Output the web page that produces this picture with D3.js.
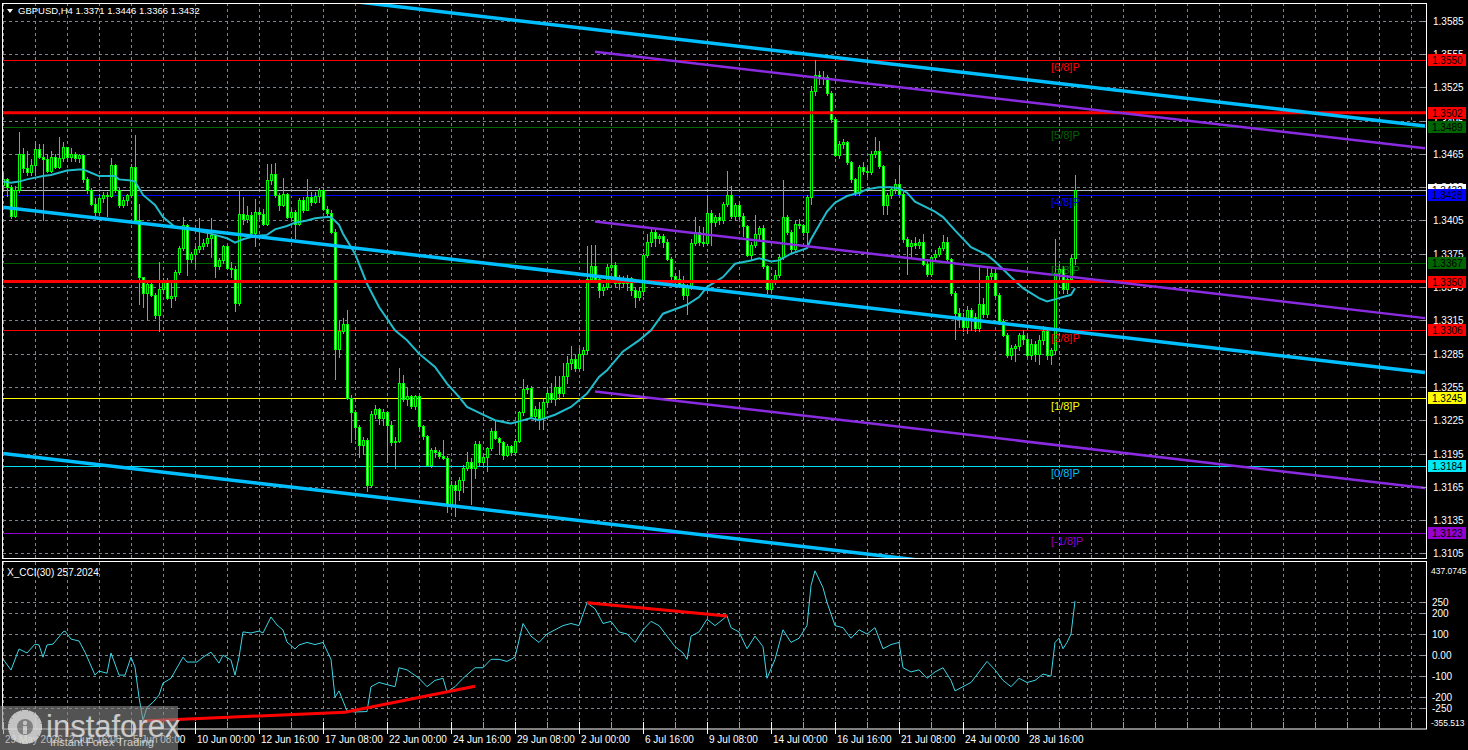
<!DOCTYPE html>
<html><head><meta charset="utf-8">
<script src="https://cdn.jsdelivr.net/npm/d3@7/dist/d3.min.js"></script>
<style>html,body{margin:0;padding:0;background:#000;overflow:hidden}svg{display:block}</style>
</head><body>
<svg id="c" width="1468" height="750"></svg>
<script>
// ---------- DATA ----------
const header = "GBPUSD,H4  1.3371 1.3446 1.3366 1.3432";
const cciTitle = "X_CCI(30) 257.2024";
const opens = [
1.3437,1.3442,1.3435,1.3409,1.3432,1.3465,1.3452,1.3449,1.3455,1.3469,
1.3462,1.3460,1.3450,1.3462,1.3453,1.3461,1.3471,1.3462,1.3465,1.3461,
1.3464,1.3442,1.3432,1.3420,1.3413,1.3425,1.3428,1.3427,1.3455,1.3432,
1.3419,1.3423,1.3428,1.3453,1.3405,1.3354,1.3340,1.3348,1.3338,1.3320,
1.3343,1.3351,1.3335,1.3337,1.3359,1.3380,1.3401,1.3370,1.3375,1.3379,
1.3382,1.3385,1.3389,1.3392,1.3364,1.3369,1.3382,1.3362,1.3361,1.3331,
1.3411,1.3406,1.3410,1.3394,1.3413,1.3411,1.3402,1.3441,1.3447,1.3428,
1.3419,1.3429,1.3408,1.3413,1.3402,1.3423,1.3414,1.3426,1.3422,1.3427,
1.3432,1.3415,1.3412,1.3395,1.3289,1.3305,1.3312,1.3245,1.3232,1.3219,
1.3203,1.3207,1.3167,1.3231,1.3235,1.3227,1.3232,1.3221,1.3205,1.3206,
1.3259,1.3244,1.3247,1.3238,1.3247,1.3220,1.3211,1.3185,1.3198,1.3196,
1.3193,1.3191,1.3150,1.3167,1.3162,1.3171,1.3182,1.3187,1.3182,1.3204,
1.3187,1.3192,1.3200,1.3215,1.3209,1.3205,1.3194,1.3202,1.3196,1.3206,
1.3232,1.3253,1.3254,1.3229,1.3235,1.3227,1.3241,1.3250,1.3244,1.3255,
1.3250,1.3265,1.3277,1.3280,1.3272,1.3285,1.3288,1.3352,1.3364,1.3352,
1.3342,1.3345,1.3363,1.3365,1.3349,1.3352,1.3349,1.3353,1.3342,1.3336,
1.3341,1.3374,1.3386,1.3395,1.3389,1.3391,1.3386,1.3370,1.3355,1.3352,
1.3348,1.3338,1.3346,1.3385,1.3395,1.3386,1.3385,1.3412,1.3404,1.3408,
1.3405,1.3420,1.3428,1.3409,1.3419,1.3409,1.3400,1.3374,1.3383,1.3393,
1.3398,1.3364,1.3343,1.3350,1.3356,1.3372,1.3408,1.3395,1.3379,1.3402,
1.3401,1.3395,1.3426,1.3522,1.3536,1.3533,1.3534,1.3520,1.3496,1.3464,
1.3474,1.3476,1.3458,1.3442,1.3430,1.3453,1.3450,1.3449,1.3465,1.3468,
1.3454,1.3419,1.3428,1.3433,1.3438,1.3429,1.3388,1.3382,1.3385,1.3383,
1.3386,1.3366,1.3357,1.3372,1.3375,1.3380,1.3386,1.3370,1.3340,1.3322,
1.3317,1.3309,1.3324,1.3318,1.3308,1.3330,1.3321,1.3355,1.3358,1.3338,
1.3314,1.3302,1.3284,1.3290,1.3292,1.3302,1.3298,1.3284,1.3294,1.3285,
1.3297,1.3305,1.3284,1.3288,1.3358,1.3361,1.3343,1.3352,1.3371];
const highs = [
1.3448,1.3443,1.3437,1.3436,1.3485,1.3470,1.3468,1.3460,1.3476,1.3474,
1.3474,1.3465,1.3468,1.3465,1.3480,1.3476,1.3471,1.3470,1.3467,1.3465,
1.3465,1.3444,1.3434,1.3425,1.3429,1.3431,1.3431,1.3461,1.3456,1.3434,
1.3426,1.3429,1.3456,1.3482,1.3420,1.3354,1.3350,1.3350,1.3340,1.3368,
1.3353,1.3353,1.3350,1.3360,1.3382,1.3408,1.3402,1.3377,1.3382,1.3407,
1.3388,1.3394,1.3407,1.3393,1.3371,1.3383,1.3383,1.3368,1.3364,1.3432,
1.3426,1.3418,1.3413,1.3424,1.3416,1.3415,1.3456,1.3456,1.3457,1.3430,
1.3443,1.3430,1.3415,1.3414,1.3425,1.3426,1.3442,1.3431,1.3431,1.3434,
1.3434,1.3418,1.3414,1.3397,1.3315,1.3317,1.3324,1.3248,1.3234,1.3221,
1.3210,1.3209,1.3233,1.3239,1.3236,1.3235,1.3233,1.3224,1.3210,1.3272,
1.3266,1.3254,1.3248,1.3248,1.3248,1.3221,1.3212,1.3200,1.3201,1.3198,
1.3207,1.3193,1.3170,1.3170,1.3174,1.3185,1.3196,1.3191,1.3206,1.3206,
1.3194,1.3201,1.3218,1.3225,1.3210,1.3206,1.3204,1.3203,1.3208,1.3233,
1.3262,1.3257,1.3256,1.3238,1.3241,1.3244,1.3255,1.3259,1.3265,1.3265,
1.3277,1.3283,1.3292,1.3284,1.3290,1.3291,1.3382,1.3383,1.3383,1.3353,
1.3348,1.3366,1.3380,1.3368,1.3356,1.3355,1.3356,1.3354,1.3344,1.3345,
1.3376,1.3393,1.3397,1.3398,1.3393,1.3393,1.3388,1.3372,1.3358,1.3360,
1.3355,1.3348,1.3388,1.3408,1.3400,1.3399,1.3428,1.3414,1.3410,1.3412,
1.3422,1.3450,1.3436,1.3421,1.3422,1.3412,1.3401,1.3386,1.3410,1.3400,
1.3401,1.3365,1.3352,1.3360,1.3375,1.3441,1.3410,1.3396,1.3405,1.3406,
1.3402,1.3428,1.3526,1.3550,1.3540,1.3540,1.3536,1.3522,1.3498,1.3477,
1.3478,1.3477,1.3459,1.3443,1.3455,1.3458,1.3453,1.3468,1.3480,1.3477,
1.3455,1.3430,1.3435,1.3442,1.3455,1.3431,1.3390,1.3387,1.3390,1.3388,
1.3393,1.3370,1.3374,1.3378,1.3382,1.3392,1.3390,1.3371,1.3341,1.3326,
1.3322,1.3328,1.3326,1.3322,1.3364,1.3335,1.3362,1.3362,1.3362,1.3340,
1.3316,1.3304,1.3293,1.3294,1.3304,1.3306,1.3303,1.3298,1.3296,1.3302,
1.3310,1.3307,1.3290,1.3388,1.3366,1.3364,1.3356,1.3374,1.3446];
const lows = [
1.3434,1.3427,1.3407,1.3408,1.3431,1.3449,1.3446,1.3446,1.3446,1.3461,
1.3405,1.3449,1.3449,1.3452,1.3452,1.3459,1.3459,1.3459,1.3459,1.3458,
1.3440,1.3430,1.3419,1.3410,1.3412,1.3422,1.3409,1.3426,1.3431,1.3417,
1.3417,1.3419,1.3426,1.3404,1.3330,1.3327,1.3315,1.3337,1.3317,1.3305,
1.3340,1.3334,1.3327,1.3333,1.3357,1.3378,1.3356,1.3368,1.3364,1.3377,
1.3379,1.3382,1.3372,1.3354,1.3361,1.3367,1.3361,1.3354,1.3323,1.3329,
1.3402,1.3404,1.3391,1.3382,1.3407,1.3401,1.3401,1.3438,1.3426,1.3414,
1.3418,1.3407,1.3407,1.3389,1.3401,1.3413,1.3414,1.3419,1.3421,1.3422,
1.3414,1.3410,1.3394,1.3262,1.3282,1.3304,1.3244,1.3205,1.3208,1.3192,
1.3195,1.3161,1.3165,1.3227,1.3222,1.3221,1.3187,1.3203,1.3182,1.3205,
1.3242,1.3239,1.3236,1.3235,1.3218,1.3208,1.3184,1.3183,1.3192,1.3191,
1.3190,1.3142,1.3147,1.3139,1.3153,1.3160,1.3180,1.3150,1.3173,1.3185,
1.3185,1.3179,1.3198,1.3208,1.3195,1.3190,1.3193,1.3194,1.3194,1.3205,
1.3230,1.3250,1.3227,1.3224,1.3217,1.3217,1.3238,1.3241,1.3239,1.3244,
1.3247,1.3259,1.3271,1.3269,1.3270,1.3270,1.3286,1.3350,1.3351,1.3336,
1.3338,1.3343,1.3360,1.3346,1.3343,1.3346,1.3342,1.3338,1.3327,1.3333,
1.3338,1.3372,1.3382,1.3382,1.3385,1.3381,1.3369,1.3352,1.3348,1.3345,
1.3334,1.3321,1.3343,1.3383,1.3383,1.3382,1.3383,1.3383,1.3400,1.3402,
1.3403,1.3418,1.3407,1.3405,1.3406,1.3391,1.3373,1.3370,1.3381,1.3388,
1.3362,1.3340,1.3341,1.3348,1.3354,1.3370,1.3393,1.3375,1.3378,1.3398,
1.3392,1.3384,1.3420,1.3518,1.3528,1.3528,1.3518,1.3494,1.3463,1.3461,
1.3470,1.3456,1.3440,1.3428,1.3428,1.3447,1.3445,1.3447,1.3462,1.3452,
1.3411,1.3411,1.3425,1.3430,1.3428,1.3386,1.3357,1.3372,1.3380,1.3380,
1.3365,1.3355,1.3355,1.3370,1.3373,1.3378,1.3368,1.3338,1.3298,1.3309,
1.3305,1.3304,1.3306,1.3305,1.3305,1.3318,1.3318,1.3350,1.3336,1.3312,
1.3301,1.3282,1.3280,1.3278,1.3288,1.3294,1.3282,1.3280,1.3278,1.3276,
1.3294,1.3280,1.3276,1.3285,1.3352,1.3340,1.3340,1.3350,1.3366];
const closes = [
1.3442,1.3435,1.3409,1.3432,1.3465,1.3452,1.3449,1.3455,1.3469,1.3462,
1.3460,1.3450,1.3462,1.3453,1.3461,1.3471,1.3462,1.3465,1.3461,1.3464,
1.3442,1.3432,1.3420,1.3413,1.3425,1.3428,1.3427,1.3455,1.3432,1.3419,
1.3423,1.3428,1.3453,1.3405,1.3354,1.3340,1.3348,1.3338,1.3320,1.3343,
1.3351,1.3335,1.3337,1.3359,1.3380,1.3401,1.3370,1.3375,1.3379,1.3382,
1.3385,1.3389,1.3392,1.3364,1.3369,1.3382,1.3362,1.3361,1.3331,1.3411,
1.3406,1.3410,1.3394,1.3413,1.3411,1.3402,1.3441,1.3447,1.3428,1.3419,
1.3429,1.3408,1.3413,1.3402,1.3423,1.3414,1.3426,1.3422,1.3427,1.3432,
1.3415,1.3412,1.3395,1.3289,1.3305,1.3312,1.3245,1.3232,1.3219,1.3203,
1.3207,1.3167,1.3231,1.3235,1.3227,1.3232,1.3221,1.3205,1.3206,1.3259,
1.3244,1.3247,1.3238,1.3247,1.3220,1.3211,1.3185,1.3198,1.3196,1.3193,
1.3191,1.3150,1.3167,1.3162,1.3171,1.3182,1.3187,1.3182,1.3204,1.3187,
1.3192,1.3200,1.3215,1.3209,1.3205,1.3194,1.3202,1.3196,1.3206,1.3232,
1.3253,1.3254,1.3229,1.3235,1.3227,1.3241,1.3250,1.3244,1.3255,1.3250,
1.3265,1.3277,1.3280,1.3272,1.3285,1.3288,1.3352,1.3364,1.3352,1.3342,
1.3345,1.3363,1.3365,1.3349,1.3352,1.3349,1.3353,1.3342,1.3336,1.3341,
1.3374,1.3386,1.3395,1.3389,1.3391,1.3386,1.3370,1.3355,1.3352,1.3348,
1.3338,1.3346,1.3385,1.3395,1.3386,1.3385,1.3412,1.3404,1.3408,1.3405,
1.3420,1.3428,1.3409,1.3419,1.3409,1.3400,1.3374,1.3383,1.3393,1.3398,
1.3364,1.3343,1.3350,1.3356,1.3372,1.3408,1.3395,1.3379,1.3402,1.3401,
1.3395,1.3426,1.3522,1.3536,1.3533,1.3534,1.3520,1.3496,1.3464,1.3474,
1.3476,1.3458,1.3442,1.3430,1.3453,1.3450,1.3449,1.3465,1.3468,1.3454,
1.3419,1.3428,1.3433,1.3438,1.3429,1.3388,1.3382,1.3385,1.3383,1.3386,
1.3366,1.3357,1.3372,1.3375,1.3380,1.3386,1.3370,1.3340,1.3322,1.3317,
1.3309,1.3324,1.3318,1.3308,1.3330,1.3321,1.3355,1.3358,1.3338,1.3314,
1.3302,1.3284,1.3290,1.3292,1.3302,1.3298,1.3284,1.3294,1.3285,1.3297,
1.3305,1.3284,1.3288,1.3358,1.3361,1.3343,1.3352,1.3371,1.3432];

// moving average read at sample bars
const maIdx = [0,2,4,6,10,12,14,16,19,20,22,24,28,29,32,33,35,38,40,43,46,48,51,53,56,58,60,63,66,68,71,73,76,78,81,82,84,85,88,91,94,98,101,104,108,111,114,116,120,123,127,129,132,134,138,142,146,149,151,155,159,162,165,168,171,174,176,180,183,187,189,192,194,197,201,202,206,208,211,214,216,219,222,224,226,228,233,235,238,242,246,248,252,255,259,261,264,267,268];
const maVal = [1.3440,1.3439,1.3440,1.3442,1.3445,1.3446,1.3448,1.3450,1.3451,1.3451,1.3448,1.3445,1.3445,1.3442,1.3441,1.3440,1.3428,1.3419,1.3408,1.3399,1.3398,1.3396,1.3394,1.3392,1.3389,1.3385,1.3388,1.3391,1.3392,1.3397,1.3400,1.3403,1.3405,1.3407,1.3408,1.3408,1.3401,1.3393,1.3375,1.3348,1.3327,1.3306,1.3297,1.3285,1.3273,1.3258,1.3246,1.3237,1.3230,1.3225,1.3222,1.3224,1.3227,1.3225,1.3230,1.3237,1.3249,1.3264,1.3270,1.3287,1.3297,1.3306,1.3321,1.3325,1.3329,1.3336,1.3345,1.3354,1.3366,1.3369,1.3371,1.3368,1.3369,1.3375,1.3380,1.3388,1.3413,1.3421,1.3427,1.3430,1.3433,1.3435,1.3435,1.3434,1.3430,1.3422,1.3413,1.3408,1.3396,1.3381,1.3374,1.3368,1.3354,1.3344,1.3335,1.3332,1.3335,1.3338,1.3344];

// CCI(30) read at sample bars
const cciIdx = [0,2,4,6,8,9,10,11,12.5,15,15.5,17,19,20.5,23,24,26,27,29,30.5,32,33,34,35,36,37.5,39,40,42,45,46,48.5,50,52,54,55,57,58,59,60,62,64,65,67,68.5,70,71,73,74,76,78,80,82,83,84,86,88,91,92,94,96,98,99,101,104,106,108,110,111,113,115,118,120,122,124,126,128,130,132,134,136,138,140,142,144,146,148,150,152,154,156,158,160,162,164,166,168,170,171,172,174,176,178,180,181,182,184,186,188,190,191,193,195,197,199,201,202,203,205,206,208,210,212,214,216,218,220,222,224,225,227,229,231,233,235,237,238,240,242,244,246,248,250,252,254,256,258,260,262,263,264,265,266,267,268];
const cciVal = [-19,-71,29,10,52,48,-10,48,52,110,114,76,67,14,-95,-76,-86,10,-95,-95,-10,-57,-200,-310,-248,-224,-190,-133,-110,-10,-33,-33,-10,14,-38,0,-24,-95,-10,110,105,114,105,181,143,119,62,29,48,60,50,60,-20,-200,-170,-265,-270,-268,-150,-130,-140,-150,-60,-70,-110,-150,-120,-110,-175,-150,-110,-60,-60,-20,-20,-30,-10,150,90,60,100,120,140,150,140,248,220,150,160,110,100,60,120,160,140,90,40,10,-20,90,110,170,140,170,186,130,110,30,90,40,-110,-20,120,60,80,140,330,400,320,250,140,130,80,120,100,130,30,50,60,-60,-80,-70,-110,-80,-60,-120,-170,-150,-130,-80,-30,-70,-120,-150,-110,-130,-120,-90,-100,60,80,30,60,100,257];

const priceRange = [1.3100, 1.3600];
const priceTicks = [1.3105,1.3135,1.3165,1.3195,1.3225,1.3255,1.3285,1.3315,1.3345,1.3375,1.3405,1.3435,1.3465,1.3495,1.3525,1.3555,1.3585];
const cciRange = [-355.513, 437.0745];
const cciLevels = [250,200,100,0,-100,-200,-250];
const cciLevelLabels = ["250","200","100","0.00","-100","-200","-250"];
const cciExtremeLabels = ["437.0745","-355.513"];

const timeLabelIdx = [0,16,32,48,64,80,96,112,128,144,160,176,192,208,224,240,256];
const timeLabels = ["29 May 2026","2 Jun 16:00","5 Jun 08:00","10 Jun 00:00","12 Jun 16:00","17 Jun 08:00","22 Jun 00:00","24 Jun 16:00","29 Jun 08:00","2 Jul 00:00","6 Jul 16:00","9 Jul 08:00","14 Jul 00:00","16 Jul 16:00","21 Jul 08:00","24 Jul 00:00","28 Jul 16:00"];

const murrayNames = ["[-1/8]P","[0/8]P","[1/8]P","[2/8]P","[3/8]P","[4/8]P","[5/8]P","[6/8]P"];
const murrayValues = [1.3123,1.3184,1.3245,1.3306,1.3367,1.3428,1.3489,1.3550];
const srLevels = [1.3502, 1.3350];
const lastPrice = 1.3432;

// trend channels: [startBar, startPrice, endBar, endPrice]
const blueChannel = [[0,1.3639,355.5,1.3490],[0,1.3417,355.5,1.3268],[0,1.3195,355.5,1.3046]];
const purpleChannel = [[148,1.3557,355.5,1.3470],[148,1.3404,355.5,1.3317],[148,1.3251,355.5,1.3164]];
// CCI divergence lines: [startBar, startCCI, endBar, endCCI]
const cciTrend = [[35,-313,85.5,-271],[85.5,-271,118,-148],[146,248,181,186]];

// ---------- STYLE ----------
const murrayLineColors = ["#9400d3","#00e0f0","#ffff00","#ff0000","#006400","#0000ff","#006400","#ff0000"];
const murrayTextColors = ["#9400d3","#00bfff","#ffff00","#ff0000","#008000","#0000ff","#006400","#ff0000"];
const FONT = "'Liberation Sans', Arial, sans-serif";
const GRID = "#7a8591";

// ---------- DRAW ----------
const svg = d3.select("#c");
svg.append("rect").attr("width",1468).attr("height",750).attr("fill","#000");

const x = d3.scaleLinear().domain([0,355.5]).range([3,1425]);
const y = d3.scaleLinear().domain(priceRange).range([559,4]);
const yc = d3.scaleLinear().domain(cciRange).range([730,563]);
const px = v => Math.round(v) + 0.5;

const defs = svg.append("defs");
defs.append("clipPath").attr("id","clipMain").append("rect").attr("x",3).attr("y",3).attr("width",1423).attr("height",556);
defs.append("clipPath").attr("id","clipCci").append("rect").attr("x",3).attr("y",562).attr("width",1423).attr("height",167);

const main = svg.append("g").attr("clip-path","url(#clipMain)");
const cci = svg.append("g").attr("clip-path","url(#clipCci)");

// vertical grid every 8 bars
const gridIdx = d3.range(0, 356, 8);
[main, cci].forEach((g, k) => {
  g.selectAll("line.vg").data(gridIdx).join("line").attr("class","vg")
    .attr("x1", d => px(x(d))).attr("x2", d => px(x(d)))
    .attr("y1", k ? 562 : 3).attr("y2", k ? 729 : 559)
    .attr("stroke", GRID).attr("stroke-dasharray","3,3").attr("stroke-width",1);
});
main.selectAll("line.hg").data(priceTicks).join("line").attr("class","hg")
  .attr("x1",3).attr("x2",1426).attr("y1", d=>px(y(d))).attr("y2", d=>px(y(d)))
  .attr("stroke", GRID).attr("stroke-dasharray","3,3");
cci.selectAll("line.hg").data(cciLevels).join("line").attr("class","hg")
  .attr("x1",3).attr("x2",1426).attr("y1", d=>px(yc(d))).attr("y2", d=>px(yc(d)))
  .attr("stroke", GRID).attr("stroke-dasharray","3,3");

// Murray lines
main.selectAll("line.mm").data(murrayValues).join("line").attr("class","mm")
  .attr("x1",3).attr("x2",1426).attr("y1", d=>px(y(d))).attr("y2", d=>px(y(d)))
  .attr("stroke", (d,i)=>murrayLineColors[i]).attr("stroke-width",1);
// current price line
main.append("line").attr("x1",3).attr("x2",1426).attr("y1",px(y(lastPrice))).attr("y2",px(y(lastPrice)))
  .attr("stroke","#b8c0c8").attr("stroke-width",1);

// candles
const bars = closes.map((c,i)=>({i, o:opens[i], h:highs[i], l:lows[i], c}));
const cg = main.append("g");
bars.forEach(b => {
  const cx = Math.round(x(b.i));
  const yh = Math.round(y(b.h)), yl = Math.round(y(b.l));
  cg.append("rect").attr("x",cx).attr("y",yh).attr("width",1).attr("height",Math.max(1,yl-yh+1)).attr("fill","#00ff00");
  const top = Math.round(y(Math.max(b.o,b.c))), bot = Math.round(y(Math.min(b.o,b.c)));
  cg.append("rect").attr("x",cx-1).attr("y",top).attr("width",3).attr("height",bot-top+1).attr("fill","#00ff00");
  if (bot - top >= 2) {
    cg.append("rect").attr("x",cx).attr("y",top+1).attr("width",1).attr("height",bot-top-1)
      .attr("fill", b.c >= b.o ? "#000" : "#ffffff");
  }
});

// moving average
const maPts = maIdx.map((d,i)=>[d, maVal[i]]);
main.append("path").attr("d", d3.line().x(d=>x(d[0])).y(d=>y(d[1]))(maPts))
  .attr("fill","none").attr("stroke","#20bccc").attr("stroke-width",2);

// support / resistance
main.selectAll("line.sr").data(srLevels).join("line").attr("class","sr")
  .attr("x1",3).attr("x2",1426).attr("y1", d=>y(d)).attr("y2", d=>y(d))
  .attr("stroke","#ff0000").attr("stroke-width",3);

// channels
main.selectAll("line.bc").data(blueChannel).join("line").attr("class","bc")
  .attr("x1",d=>x(d[0])).attr("y1",d=>y(d[1])).attr("x2",d=>x(d[2])).attr("y2",d=>y(d[3]))
  .attr("stroke","#00bfff").attr("stroke-width",3.5);
main.selectAll("line.pc").data(purpleChannel).join("line").attr("class","pc")
  .attr("x1",d=>x(d[0])).attr("y1",d=>y(d[1])).attr("x2",d=>x(d[2])).attr("y2",d=>y(d[3]))
  .attr("stroke","#8a2be2").attr("stroke-width",2.5);

// Murray text labels
main.selectAll("text.mt").data(murrayValues).join("text").attr("class","mt")
  .attr("x",1051).attr("y", d=>y(d)+11.5).text((d,i)=>murrayNames[i])
  .attr("fill",(d,i)=>murrayTextColors[i]).attr("font-family",FONT).attr("font-size",11);

// CCI line
const cciPts = cciIdx.map((d,i)=>[d, cciVal[i]]);
cci.append("path").attr("d", d3.line().x(d=>x(d[0])).y(d=>yc(d[1]))(cciPts))
  .attr("fill","none").attr("stroke","#3cd6e6").attr("stroke-width",1);
cci.selectAll("line.ct").data(cciTrend).join("line").attr("class","ct")
  .attr("x1",d=>x(d[0])).attr("y1",d=>yc(d[1])).attr("x2",d=>x(d[2])).attr("y2",d=>yc(d[3]))
  .attr("stroke","#ff0000").attr("stroke-width",3);

// frames
const W = "#ffffff";
svg.append("rect").attr("x",2.5).attr("y",3.5).attr("width",1424).attr("height",555).attr("fill","none").attr("stroke",W);
svg.append("rect").attr("x",2.5).attr("y",561.5).attr("width",1424).attr("height",167.5).attr("fill","none").attr("stroke",W);

// right price axis
const ax = svg.append("g").attr("font-family",FONT).attr("font-size",10);
ax.selectAll("line.pt").data(priceTicks).join("line").attr("class","pt")
  .attr("x1",1421).attr("x2",1426).attr("y1",d=>px(y(d))).attr("y2",d=>px(y(d))).attr("stroke","#909090");
ax.selectAll("text.pl").data(priceTicks).join("text").attr("class","pl")
  .attr("x",1433).attr("y",d=>y(d)+4).attr("fill","#fff").text(d=>d.toFixed(4));

// price boxes
const boxes = [{v:lastPrice, c:"#ffffff"}]
  .concat(srLevels.map(v=>({v, c:"#ff0000"})))
  .concat(murrayValues.map((v,i)=>({v, c: murrayLineColors[i]==="#00e0f0" ? "#00e8f8" : murrayLineColors[i]})));
boxes.forEach(b => {
  const yy = y(b.v);
  ax.append("rect").attr("x",1428).attr("y",Math.round(yy)-6).attr("width",38).attr("height",12).attr("fill",b.c);
  ax.append("text").attr("x",1432).attr("y",yy+4).attr("fill","#000").text(b.v.toFixed(4));
});

// CCI axis
ax.selectAll("line.cl").data(cciLevels).join("line").attr("class","cl")
  .attr("x1",1421).attr("x2",1426).attr("y1",d=>px(yc(d))).attr("y2",d=>px(yc(d))).attr("stroke","#909090");
ax.selectAll("text.cll").data(cciLevels).join("text").attr("class","cll")
  .attr("x",1432).attr("y",d=>yc(d)+4).attr("fill","#fff").text((d,i)=>cciLevelLabels[i]);
ax.append("text").attr("x",1431).attr("y",574).attr("fill","#fff").attr("font-size",8.5).text(cciExtremeLabels[0]);
ax.append("text").attr("x",1431).attr("y",726).attr("fill","#fff").attr("font-size",8.5).text(cciExtremeLabels[1]);

// time axis
const tx = svg.append("g").attr("font-family",FONT).attr("font-size",10);
tx.selectAll("line.mt").data(gridIdx).join("line")
  .attr("x1",d=>px(x(d))).attr("x2",d=>px(x(d))).attr("y1",722).attr("y2",728).attr("stroke","#a0a0a0");
tx.selectAll("line.Mt").data(timeLabelIdx).join("line")
  .attr("x1",d=>px(x(d))).attr("x2",d=>px(x(d))).attr("y1",722).attr("y2",734).attr("stroke","#fff");
tx.selectAll("text").data(timeLabelIdx).join("text")
  .attr("x",d=>Math.round(x(d))+2).attr("y",743).attr("fill","#fff").text((d,i)=>timeLabels[i]);

// titles
svg.append("path").attr("d","M7,9 L13,9 L10,13 Z").attr("fill","#fff");
svg.append("text").attr("x",18).attr("y",14).attr("fill","#fff").attr("font-family",FONT).attr("font-size",9.5).text(header);
svg.append("text").attr("x",7).attr("y",576).attr("fill","#fff").attr("font-family",FONT).attr("font-size",10).text(cciTitle);

// watermark
const wm = svg.append("g");
wm.append("rect").attr("x",0).attr("y",706).attr("width",178).attr("height",44).attr("fill","#8a8a8a").attr("opacity",0.6);
const gear = wm.append("g").attr("transform","translate(25,727)").attr("fill","#e0e0e0").attr("opacity",0.8);
d3.range(8).forEach(k=>gear.append("rect").attr("x",-3).attr("y",-17).attr("width",6).attr("height",34).attr("transform",`rotate(${k*22.5})`));
gear.append("circle").attr("r",13);
gear.append("circle").attr("r",8).attr("fill","#8a8a8a");
gear.append("circle").attr("cy",-4).attr("r",2.2);
gear.append("rect").attr("x",-2).attr("y",-1).attr("width",4).attr("height",8);
wm.append("text").attr("x",46).attr("y",737).attr("font-family",FONT).attr("font-size",31)
  .attr("fill","#e8e8e8").attr("opacity",0.8).text("instaforex");
wm.append("text").attr("x",50).attr("y",746).attr("font-family",FONT).attr("font-size",11)
  .attr("fill","#e8e8e8").attr("opacity",0.8).text("Instant Forex Trading");
</script>
</body></html>
